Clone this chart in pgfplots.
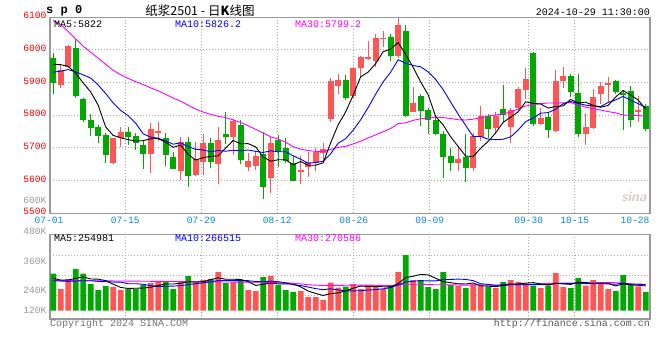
\documentclass[border=0pt]{standalone}
\usepackage{fontspec}
\setmainfont{Liberation Mono}
\newfontfamily\cjk{Noto Sans CJK SC}
\usepackage{pgfplots}
\usepackage{pgfplotstable}
\pgfplotsset{compat=1.18}
\definecolor{upred}{HTML}{FF5555}
\definecolor{dngreen}{HTML}{00A800}
\definecolor{maten}{HTML}{0000FF}
\definecolor{mathirty}{HTML}{FF00FF}
\definecolor{gridgray}{HTML}{AAAAAA}
\definecolor{bordergray}{HTML}{999999}
\definecolor{ylab}{HTML}{FF0000}
\definecolor{xlab}{HTML}{0A86E8}
\definecolor{labgray}{HTML}{999999}

\pgfplotstableread{
i o h l c v
1 5894 5954 5885 5939 222300
2 5949 6015 5945 6012 324900
8 5655 5732 5652 5730 242820
9 5732 5765 5704 5749 212040
13 5681 5777 5624 5758 283860
14 5747 5780 5720 5752 304380
17 5631 5734 5603 5718 304380
19 5617 5717 5614 5666 294120
20 5658 5744 5617 5715 314640
22 5652 5765 5591 5725 396720
24 5735 5790 5680 5782 294120
26 5643 5684 5630 5660 212040
27 5646 5689 5632 5676 201780
29 5609 5734 5561 5715 355680
33 5629 5674 5589 5632 201780
34 5643 5688 5611 5658 140220
35 5653 5699 5631 5688 140220
36 5684 5714 5658 5696 109440
37 5788 5913 5779 5905 287280
38 5891 5926 5866 5908 235980
40 5860 5949 5852 5944 273600
41 5946 5981 5918 5977 222300
42 5972 6028 5970 5979 263340
43 5967 6049 5949 6037 246240
44 6034 6059 6009 6037 222300
46 5983 6098 5977 6077 396720
48 5811 5888 5809 5838 314640
54 5655 5706 5628 5666 256500
56 5639 5745 5631 5737 270180
57 5734 5830 5720 5798 256500
59 5762 5809 5742 5797 232560
61 5764 5821 5716 5816 314640
62 5823 5888 5815 5881 294120
63 5878 5946 5850 5911 280440
65 5773 5822 5770 5792 232560
67 5753 5939 5750 5905 386460
68 5906 5948 5885 5920 242820
71 5742 5807 5709 5763 256500
72 5760 5881 5757 5856 314640
73 5866 5902 5834 5891 273600
74 5894 5917 5840 5899 222300
78 5813 5859 5781 5816 249660
}\up

\pgfplotstableread{
i o h l c v
0 5975 5990 5866 5900 379620
3 6006 6033 5854 5859 427500
4 5850 5852 5778 5786 379620
5 5786 5805 5738 5762 273600
6 5763 5770 5714 5738 212040
7 5740 5745 5655 5677 253080
10 5749 5763 5709 5734 222300
11 5737 5745 5694 5716 222300
12 5709 5722 5636 5683 263340
15 5730 5747 5645 5680 294120
16 5672 5688 5636 5637 222300
18 5718 5733 5579 5615 355680
21 5716 5730 5640 5658 324900
23 5743 5809 5712 5735 283860
25 5770 5785 5650 5664 304380
28 5681 5748 5543 5582 345420
30 5724 5740 5643 5687 263340
31 5701 5730 5653 5659 212040
32 5655 5675 5598 5600 191520
39 5908 5923 5848 5854 246240
45 6040 6049 5966 5983 263340
47 6059 6077 5794 5799 571140
49 5860 5865 5768 5814 314640
50 5815 5823 5742 5787 242820
51 5786 5794 5740 5744 222300
52 5744 5752 5609 5671 396720
53 5674 5699 5630 5655 263340
55 5672 5743 5597 5640 232560
58 5798 5804 5730 5759 242820
60 5818 5894 5781 5801 294120
64 5991 5993 5767 5773 256500
66 5795 5810 5730 5754 256500
69 5920 5927 5857 5871 232560
70 5868 5927 5734 5742 335160
75 5906 5908 5865 5871 201780
76 5867 5878 5755 5863 365940
77 5874 5890 5765 5786 263340
79 5829 5834 5753 5759 191520
}\down

\pgfplotstableread{
i ma5 ma10 ma30
0 5956 5932 6090
1 5955 5935 6078
2 5950 5940 6057
3 5929 5933 6034
4 5899.2 5924 6012
5 5871.6 5914 5993
6 5831.4 5893 5975
7 5764.4 5867 5956
8 5738.6 5838 5938
9 5731.2 5815.2 5924
10 5725.6 5798.6 5913
11 5721.2 5776.3 5903
12 5722.4 5743.4 5894
13 5728 5733.3 5884
14 5728.6 5729.9 5875
15 5717.8 5721.7 5864
16 5702 5711.6 5853
17 5709 5715.7 5843
18 5680.4 5704.2 5831
19 5663.2 5695.9 5819
20 5670.2 5694 5810
21 5674.4 5688.2 5803
22 5675.8 5692.4 5797
23 5699.8 5690.1 5793
24 5723 5693.1 5786
25 5712.8 5691.5 5778
26 5713.2 5693.8 5768
27 5703.4 5689.6 5757
28 5672.8 5686.3 5746
29 5659.4 5691.2 5734.1
30 5664 5688.4 5727
31 5663.8 5688.5 5717.7
32 5648.6 5676 5703.9
33 5658.4 5665.6 5696.3
34 5647 5653.2 5692.1
35 5647.2 5655.6 5689.6
36 5654.6 5659.2 5688.2
37 5715.6 5682.1 5695.8
38 5771 5714.7 5701.7
39 5810.2 5728.6 5705.2
40 5861.4 5754.3 5712.2
41 5917.6 5786.1 5720.9
42 5932.4 5824 5730.8
43 5958.2 5864.6 5740.1
44 5994.8 5902.5 5749.6
45 6002.6 5932 5759.7
46 6022.6 5970.1 5774.4
47 5986.6 5959.5 5777.1
48 5946.8 5952.5 5784.5
49 5902.2 5948.5 5789.4
50 5863 5932.8 5791.8
51 5796.4 5909.5 5794.7
52 5770.8 5878.7 5792.9
53 5734.2 5840.5 5790.2
54 5704.6 5803.4 5786.4
55 5675.2 5769.1 5785.6
56 5673.8 5735.1 5788.1
57 5699.2 5735 5792.2
58 5720 5727.1 5798.1
59 5746.2 5725.4 5800.8
60 5778.4 5726.8 5804.6
61 5794.2 5734 5809.9
62 5810.8 5755 5819.2
63 5841.2 5780.6 5828.6
64 5836.4 5791.3 5832.4
65 5834.6 5806.5 5835.9
66 5822.2 5808.2 5837.8
67 5827 5818.9 5837.8
68 5828.8 5835 5838.2
69 5848.4 5842.4 5838.8
70 5838.4 5836.5 5832
71 5840.2 5831.2 5824.9
72 5830.4 5828.7 5820.8
73 5824.6 5826.7 5815.9
74 5830.2 5839.3 5811.3
75 5856 5847.2 5807.6
76 5876 5858.1 5800.5
77 5862 5846.2 5800
78 5846.8 5835.7 5799.3
79 5818.8 5824.5 5797.4
}\ma

\pgfplotstableread{
i vma5 vma10 vma30
0 331740 307800 311220
1 314640 304380 nan
2 314640 300960 nan
3 331740 304380 nan
4 346788 307800 nan
5 325584 307800 nan
6 323532 300960 nan
7 309168 297540 306090
8 272232 294120 nan
9 238716 292752 nan
10 228456 277020 nan
11 230508 277020 nan
12 232560 270864 nan
13 240768 256500 nan
14 259236 248976 300960
15 273600 251028 nan
16 273600 252054 nan
17 281808 257184 nan
18 296172 268470 nan
19 294120 276678 nan
20 298224 285912 nan
21 318744 296172 296172
22 337212 309510 nan
23 322848 309510 nan
24 322848 308484 nan
25 320796 309510 nan
26 298224 308484 nan
27 259236 298224 nan
28 271548 297198 291384
29 283860 303354 290939
30 275652 298224 287041
31 275652 286938 286699
32 273600 266418 282253
33 244872 258210 274729
34 201780 242820 266760
35 177156 226404 262314
36 156636 216144 258894
37 175788 224694 260023
38 182628 213750 259817
39 203832 202806 260946
40 230508 203832 262656
41 253080 204858 262656
42 248292 212040 262656
43 250344 216486 261391
44 245556 224694 258655
45 243504 237006 257629
46 278388 265734 263443
47 339948 294120 272335
48 353628 301986 270967
49 372096 308826 271651
50 367992 305748 269257
51 333108 305748 265837
52 298224 319086 265837
53 287964 320796 265153
54 276336 324216 263921
55 274284 321138 261527
56 283860 308484 263443
57 255816 277020 265289
58 251712 269838 261869
59 246924 261630 257765
60 259236 266760 258791
61 268128 275994 262211
62 275652 265734 265631
63 283176 267444 268231
64 287964 267444 272129
65 275652 267444 275207
66 264024 266076 280098
67 282492 279072 283415
68 274968 279072 283621
69 270180 279072 283176
70 290700 283176 285228
71 290700 277362 286357
72 276336 279414 288067
73 282492 278730 288990
74 280440 275310 288990
75 253764 272232 286938
76 275652 283176 285912
77 265392 270864 275652
78 260604 271548 273497
79 254448 267444 269393
}\vma

\pgfplotsset{
  kbase/.style={
    scale only axis, width=600pt,
    xmin=-0.42, xmax=79.58,
    xtick={9.62,19.75,29.89,40.07,50.21,63.40,69.54},
    major tick length=0pt,
    xmajorgrids, ymajorgrids,
    grid style={draw=gridgray, line width=1pt, dash pattern=on 1pt off 2pt},
    axis line style={draw=bordergray, line width=1.2pt},
    scaled y ticks=false,
    tick label style={font=\fontsize{9.6}{11}\selectfont},
    unbounded coords=discard,
  },
  wick/.style={draw=none, mark=none, forget plot,
    error bars/.cd, y dir=both, y explicit, error mark=none,
    error bar style={draw=#1, line width=1pt}},
  body/.style={draw=none, mark=none, forget plot,
    error bars/.cd, y dir=both, y explicit, error mark=none,
    error bar style={draw=#1, line width=5.7pt}},
}

\begin{document}
\begin{tikzpicture}
\useasboundingbox (0,0) rectangle (660pt,-360pt);

% price panel
\begin{axis}[kbase, at={(50pt,-17.3pt)}, anchor=north west, height=196pt,
  ymin=5500, ymax=6100,
  ytick={5500,5600,5700,5800,5900,6000,6100},
  yticklabels={5500,5600,5700,5800,5900,6000,6100},
  xticklabels={07-15,07-29,08-12,08-26,09-09,09-30,10-15},
  yticklabel style={text=ylab, yshift=1.6pt},
  xticklabel style={text=xlab},
]
\addplot[wick=upred] table[x=i, y expr={(\thisrow{h}+\thisrow{l})/2}, y error expr={(\thisrow{h}-\thisrow{l})/2}]{\up};
\addplot[body=upred] table[x=i, y expr={(\thisrow{o}+\thisrow{c})/2}, y error expr={abs(\thisrow{c}-\thisrow{o})/2}]{\up};
\addplot[wick=dngreen] table[x=i, y expr={(\thisrow{h}+\thisrow{l})/2}, y error expr={(\thisrow{h}-\thisrow{l})/2}]{\down};
\addplot[body=dngreen] table[x=i, y expr={(\thisrow{o}+\thisrow{c})/2}, y error expr={abs(\thisrow{c}-\thisrow{o})/2}]{\down};
\addplot[mathirty, line width=0.9pt, mark=none] table[x=i, y=ma30]{\ma};
\addplot[maten, line width=0.9pt, mark=none] table[x=i, y=ma10]{\ma};
\addplot[black, line width=0.9pt, mark=none] table[x=i, y=ma5]{\ma};
\end{axis}

% volume panel
\begin{axis}[kbase, at={(50pt,-234.3pt)}, anchor=north west, height=84.7pt,
  ymin=-85200, ymax=783900,
  ytick={161000,366300,571500}, yticklabels={},
  xticklabels={},
]
\addplot[ybar, bar width=5.7pt, bar shift=0pt, fill=upred, draw=none] table[x=i, y=v]{\up};
\addplot[ybar, bar width=5.7pt, bar shift=0pt, fill=dngreen, draw=none] table[x=i, y=v]{\down};
\addplot[mathirty, line width=0.9pt, mark=none] table[x=i, y=vma30]{\vma};
\addplot[maten, line width=0.9pt, mark=none] table[x=i, y=vma10]{\vma};
\addplot[black, line width=0.9pt, mark=none] table[x=i, y=vma5]{\vma};
\end{axis}

% texts
\node[anchor=west, inner sep=0pt, font=\bfseries\fontsize{12}{14}\selectfont] at (46pt,-11pt) {s p 0};
\node[inner sep=0pt, font=\cjk\fontsize{12.5}{14}\selectfont] at (200pt,-10.5pt) {纸浆2501 - 日\textbf{K}线图};
\node[anchor=east, inner sep=0pt, font=\fontsize{10}{12}\selectfont] at (650pt,-12pt) {2024-10-29 11:30:00};

\node[anchor=west, inner sep=0pt, font=\fontsize{10}{12}\selectfont, text=black] at (54pt,-24pt) {MA5:5822};
\node[anchor=west, inner sep=0pt, font=\fontsize{10}{12}\selectfont, text=maten] at (175pt,-24pt) {MA10:5826.2};
\node[anchor=west, inner sep=0pt, font=\fontsize{10}{12}\selectfont, text=mathirty] at (295pt,-24pt) {MA30:5799.2};

\node[anchor=west, inner sep=0pt, font=\fontsize{10}{12}\selectfont, text=black] at (54pt,-238.5pt) {MA5:254981};
\node[anchor=west, inner sep=0pt, font=\fontsize{10}{12}\selectfont, text=maten] at (175pt,-238.5pt) {MA10:266515};
\node[anchor=west, inner sep=0pt, font=\fontsize{10}{12}\selectfont, text=mathirty] at (295pt,-238.5pt) {MA30:270586};

\node[anchor=east, inner sep=0pt, font=\fontsize{9.6}{11}\selectfont, text=labgray] at (46.5pt,-200pt) {600K};
\node[inner sep=0pt, font=\fontsize{9.6}{11}\selectfont, text=xlab] at (49pt,-220.5pt) {07-01};
\node[inner sep=0pt, font=\fontsize{9.6}{11}\selectfont, text=xlab] at (635pt,-220.5pt) {10-28};

\node[anchor=east, inner sep=0pt, font=\fontsize{9.6}{11}\selectfont, text=labgray] at (46.5pt,-231pt) {480K};
\node[anchor=east, inner sep=0pt, font=\fontsize{9.6}{11}\selectfont, text=labgray] at (46.5pt,-261pt) {360K};
\node[anchor=east, inner sep=0pt, font=\fontsize{9.6}{11}\selectfont, text=labgray] at (46.5pt,-290pt) {240K};
\node[anchor=east, inner sep=0pt, font=\fontsize{9.6}{11}\selectfont, text=labgray] at (46.5pt,-310pt) {120K};

\node[anchor=west, inner sep=0pt, font=\fontsize{10}{12}\selectfont, text=black!55] at (50pt,-324pt) {Copyright 2024 SINA.COM};
\node[anchor=east, inner sep=0pt, font=\fontsize{10}{12}\selectfont, text=black!65] at (650pt,-324pt) {http://finance.sina.com.cn};
\node[inner sep=0pt, font=\sffamily\bfseries\itshape\fontsize{14}{16}\selectfont, text=red!20!gray!35] at (634pt,-197pt) {sina};
\end{tikzpicture}
\end{document}
